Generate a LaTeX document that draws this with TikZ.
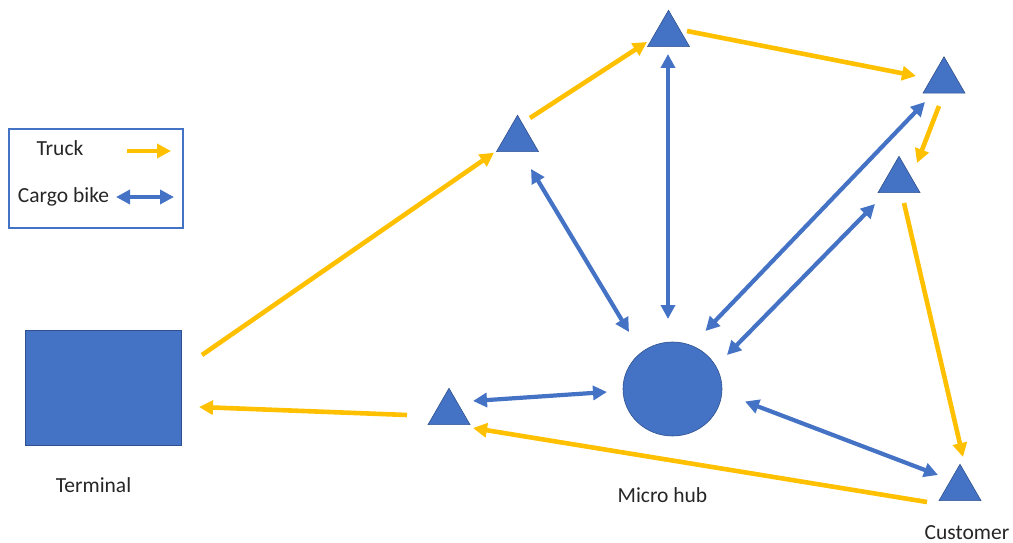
\documentclass[tikz,border=0pt]{standalone}
\usepackage{fontspec}
\setmainfont{Carlito}
\usetikzlibrary{shapes.geometric,arrows.meta,calc}

\definecolor{hubblue}{HTML}{4472C4}
\definecolor{edgeblue}{HTML}{2F528F}
\definecolor{truckorange}{HTML}{FFC000}
\definecolor{labelgray}{HTML}{262626}

\tikzset{
  site/.style={regular polygon, regular polygon sides=3, minimum size=48.5pt,
    inner sep=0pt, outer sep=0pt, fill=hubblue, draw=edgeblue, line width=0.6pt},
  depot/.style={rectangle, minimum width=156pt, minimum height=115pt,
    inner sep=0pt, fill=hubblue, draw=edgeblue, line width=0.6pt},
  hubnode/.style={ellipse, minimum width=99pt, minimum height=94pt,
    inner sep=0pt, fill=hubblue, draw=edgeblue, line width=0.6pt},
  caption/.style={anchor=base, inner sep=0pt, text=labelgray,
    font=\fontsize{21.5}{26}\selectfont},
  truck/.style={draw=truckorange, line width=4.6pt,
    -{Triangle[length=14pt,width=14pt]}},
  bike/.style={draw=hubblue, line width=4.2pt,
    {Triangle[length=14pt,width=14pt]}-{Triangle[length=14pt,width=14pt]}},
}

\begin{document}
\begin{tikzpicture}[x=1pt,y=-1pt]
  \useasboundingbox (0,0) rectangle (1013,543);

  % legend
  \node[draw=hubblue, line width=1.2pt, minimum width=174pt, minimum height=99pt,
        inner sep=0pt] (legend) at (96,178.5) {};
  \node[caption] (ltruck) at (60,155) {Truck};
  \node[caption] (lbike) at (63.5,202) {Cargo bike};
  \coordinate (tA) at (127,151);
  \coordinate (tB) at (171,151);
  \coordinate (bA) at (116,197);
  \coordinate (bB) at (174,197);
  \draw[truck] (tA) -- (tB);
  \draw[bike] (bA) -- (bB);

  % terminal, micro hub and stops
  \node[depot] (term) at (103,388) {};
  \node[hubnode] (hub) at (672.5,389) {};
  \node[site] (t1) at (517.5,139.5) {};
  \node[site] (t2) at (668.5,34.5) {};
  \node[site] (t3) at (944,81) {};
  \node[site] (t4) at (899,180.5) {};
  \node[site] (t5) at (449,412.5) {};
  \node[site] (cust) at (960,488.5) {};

  \node[caption] (lterm) at (93.5,492) {Terminal};
  \node[caption] (lhub) at (662.5,502) {Micro hub};
  \node[caption] (lcust) at (967,539) {Customer};

  % truck tour
  \draw[truck] ($(term)+(99,-33)$) -- ($(t1)+(-23.5,13.2)$);
  \draw[truck] ($(t1)+(12.5,-21.5)$) -- ($(t2)+(-21.5,7.5)$);
  \draw[truck] ($(t2)+(18.5,-3.5)$) -- ($(t3)+(-28,-5)$);
  \draw[truck] ($(t3)+(-5,25)$) -- ($(t4)+(18,-17.5)$);
  \draw[truck] ($(t4)+(5,22.5)$) -- ($(cust)+(3,-31.5)$);
  \draw[truck] ($(cust)+(-33,13.5)$) -- ($(t5)+(24,15.5)$);
  \draw[truck] ($(t5)+(-42,2.5)$) -- ($(term)+(96,19)$);

  % cargo bike links to the micro hub
  \draw[bike] ($(t1)+(13.5,29.5)$) -- ($(hub)+(-43.5,-57)$);
  \draw[bike] ($(t2)+(-0.5,19.5)$) -- ($(hub)+(-4.5,-70)$);
  \draw[bike] ($(t3)+(-19,21)$) -- ($(hub)+(33,-58)$);
  \draw[bike] ($(t4)+(-24,23.5)$) -- ($(hub)+(54.5,-34)$);
  \draw[bike] ($(t5)+(24,-11.5)$) -- ($(hub)+(-65.5,3)$);
  \draw[bike] ($(hub)+(72.5,12.5)$) -- ($(cust)+(-22,-13.5)$);
\end{tikzpicture}
\end{document}
